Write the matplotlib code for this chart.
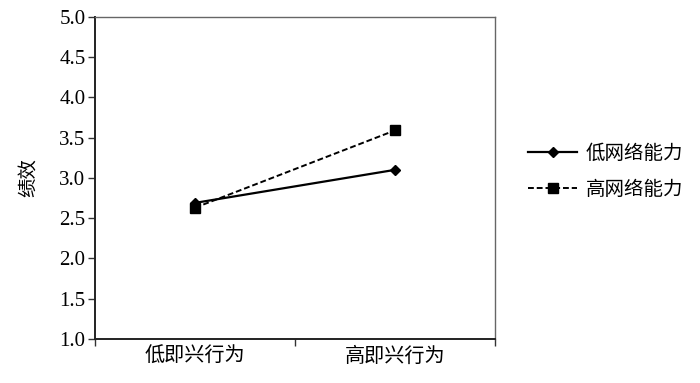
import matplotlib
matplotlib.use('Agg')
import matplotlib.pyplot as plt
from matplotlib.ticker import FixedLocator, NullFormatter

plt.rcParams['font.family'] = ['Liberation Serif', 'Noto Sans CJK SC', 'DejaVu Sans']

# data
categories = ['低即兴行为', '高即兴行为']
series_names = ['低网络能力', '高网络能力']
low_network = [2.69, 3.10]
high_network = [2.63, 3.59]
y_ticks = [1.0, 1.5, 2.0, 2.5, 3.0, 3.5, 4.0, 4.5, 5.0]

fig = plt.figure(figsize=(7, 3.83), dpi=100)
ax = fig.add_axes([0.136, 0.115, 0.571, 0.841])

xpos = [0.5, 1.5]
ax.plot(xpos, low_network, color='black', lw=1.6, marker='D', ms=5,
        label=series_names[0])
ax.plot(xpos, high_network, color='black', lw=1.4, ls=(0, (3, 1.5)), marker='s', ms=6.5,
        label=series_names[1])

ax.set_xlim(0, 2)
ax.set_ylim(1.0, 5.0)
ax.set_yticks(y_ticks)
ax.set_yticklabels(['%.1f' % v for v in y_ticks], fontsize=15)

# category labels centred between boundary ticks, like an Excel chart
ax.xaxis.set_major_locator(FixedLocator([0, 1, 2]))
ax.xaxis.set_major_formatter(NullFormatter())
ax.xaxis.set_minor_locator(FixedLocator(xpos))
ax.set_xticklabels(categories, minor=True, fontsize=14.5, family='Noto Sans CJK SC')
ax.tick_params(axis='x', which='minor', length=0, pad=5)
ax.tick_params(axis='both', which='major', direction='out', length=5, width=1, color='#333')
ax.tick_params(axis='y', pad=2)

ax.set_ylabel('绩效', fontsize=14, family='Noto Sans CJK SC', labelpad=15)

for s in ['left', 'bottom']:
    ax.spines[s].set_color('#222')
    ax.spines[s].set_linewidth(1.4)
for s in ['top', 'right']:
    ax.spines[s].set_color('#666')
    ax.spines[s].set_linewidth(1.0)

leg = ax.legend(loc='center left', bbox_to_anchor=(1.04, 0.52), frameon=False,
                handlelength=2.5, labelspacing=0.75, handletextpad=0.45,
                prop={'family': 'Noto Sans CJK SC', 'size': 14})

fig.savefig('out.png', dpi=100)
